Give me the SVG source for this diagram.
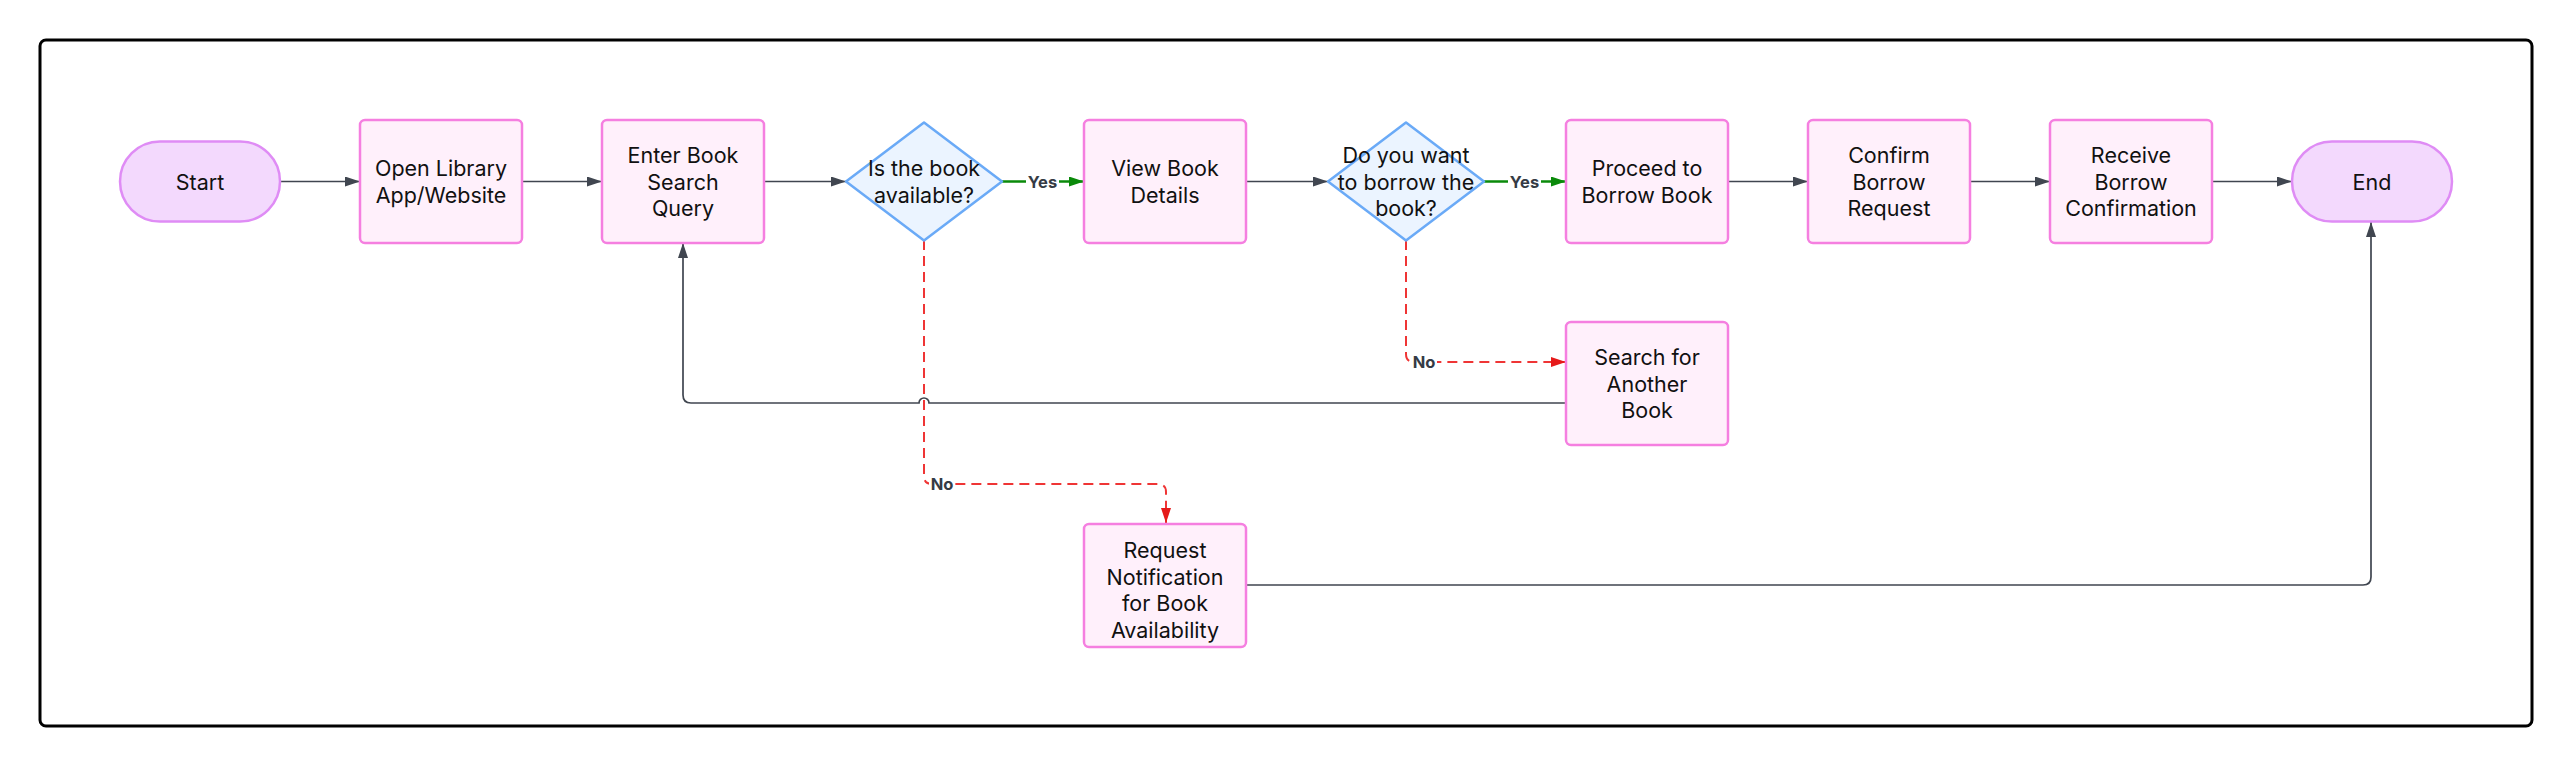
<svg xmlns="http://www.w3.org/2000/svg" width="2572" height="766" viewBox="0 0 2572 766">
<defs>
<style>
.box{fill:#fff0fb;stroke:#f57fe0;stroke-width:2.5}
.pill{fill:#f3d9fd;stroke:#df8cf5;stroke-width:2.5}
.dia{fill:#ebf4ff;stroke:#6aaaf7;stroke-width:2.5;stroke-linejoin:round}
.t{font-family:Inter,"Noto Sans","Liberation Sans",sans-serif;font-size:21.5px;fill:#111;text-anchor:middle}
.lbl{font-family:Inter,"Noto Sans","Liberation Sans",sans-serif;font-size:16.5px;font-weight:700;fill:#353b45;text-anchor:middle}
.e{fill:none;stroke:#404650;stroke-width:1.7}
.g{fill:none;stroke:#0a8a0a;stroke-width:2.5}
.r{fill:none;stroke:#ef3535;stroke-width:2;stroke-dasharray:10 6}
</style>
<marker id="ag" viewBox="0 0 15 10" refX="15" refY="5" markerWidth="15" markerHeight="10" markerUnits="userSpaceOnUse" orient="auto"><path d="M0,0L15,5L0,10z" fill="#404650"/></marker>
<marker id="agr" viewBox="0 0 15 10" refX="15" refY="5" markerWidth="15" markerHeight="10" markerUnits="userSpaceOnUse" orient="auto"><path d="M0,0L15,5L0,10z" fill="#0a8a0a"/></marker>
<marker id="ar" viewBox="0 0 15 10" refX="15" refY="5" markerWidth="15" markerHeight="10" markerUnits="userSpaceOnUse" orient="auto"><path d="M0,0L15,5L0,10z" fill="#e51a1a"/></marker>
</defs>
<rect x="0" y="0" width="2572" height="766" fill="#fff"/>
<rect x="40" y="40" width="2492" height="686" rx="6" fill="#fff" stroke="#000" stroke-width="3"/>

<g id="connectors">
<path class="e" d="M280,181.5H360" marker-end="url(#ag)"/>
<path class="e" d="M522,181.5H602" marker-end="url(#ag)"/>
<path class="e" d="M764,181.5H846" marker-end="url(#ag)"/>
<path class="g" d="M1002,181.5H1084" marker-end="url(#agr)"/>
<path class="e" d="M1246,181.5H1328" marker-end="url(#ag)"/>
<path class="g" d="M1484,181.5H1566" marker-end="url(#agr)"/>
<path class="e" d="M1728,181.5H1808" marker-end="url(#ag)"/>
<path class="e" d="M1970,181.5H2050" marker-end="url(#ag)"/>
<path class="e" d="M2212,181.5H2292" marker-end="url(#ag)"/>
<path class="r" d="M924,240V476Q924,484 932,484H1158Q1166,484 1166,492V523" marker-end="url(#ar)"/>
<path class="r" d="M1406,240V354Q1406,362 1414,362H1566" marker-end="url(#ar)"/>
<path class="e" d="M1566,403H929A5,5 0 0 0 919,403H691Q683,403 683,395V243" marker-end="url(#ag)"/>
<path class="e" d="M1246,585H2363Q2371,585 2371,577V222" marker-end="url(#ag)"/>
<rect x="1026" y="172" width="33" height="20" fill="#fff"/>
<text class="lbl" x="1042.5" y="188">Yes</text>
<rect x="1508" y="172" width="33" height="20" fill="#fff"/>
<text class="lbl" x="1524.5" y="188">Yes</text>
<rect x="929" y="474" width="26" height="20" fill="#fff"/>
<text class="lbl" x="942" y="490">No</text>
<rect x="1411" y="352" width="26" height="20" fill="#fff"/>
<text class="lbl" x="1424" y="368">No</text>
</g>

<g id="start"><rect class="pill" x="120" y="141.5" width="160" height="80" rx="40"/><text class="t" x="200" y="189.5">Start</text></g>
<g id="open"><rect class="box" x="360" y="120" width="162" height="123" rx="5"/><text class="t" x="441" y="176">Open Library</text><text class="t" x="441" y="202.5">App/Website</text></g>
<g id="enter"><rect class="box" x="602" y="120" width="162" height="123" rx="5"/><text class="t" x="683" y="163">Enter Book</text><text class="t" x="683" y="189.5">Search</text><text class="t" x="683" y="216">Query</text></g>
<g id="available"><path class="dia" d="M924,122.5L1002,181.5L924,240.5L846,181.5Z"/><text class="t" x="924" y="176">Is the book</text><text class="t" x="924" y="202.5">available?</text></g>
<g id="view"><rect class="box" x="1084" y="120" width="162" height="123" rx="5"/><text class="t" x="1165" y="176">View Book</text><text class="t" x="1165" y="202.5">Details</text></g>
<g id="borrowq"><path class="dia" d="M1406,122.5L1484,181.5L1406,240.5L1328,181.5Z"/><text class="t" x="1406" y="163">Do you want</text><text class="t" x="1406" y="189.5">to borrow the</text><text class="t" x="1406" y="216">book?</text></g>
<g id="proceed"><rect class="box" x="1566" y="120" width="162" height="123" rx="5"/><text class="t" x="1647" y="176">Proceed to</text><text class="t" x="1647" y="202.5">Borrow Book</text></g>
<g id="confirm"><rect class="box" x="1808" y="120" width="162" height="123" rx="5"/><text class="t" x="1889" y="163">Confirm</text><text class="t" x="1889" y="189.5">Borrow</text><text class="t" x="1889" y="216">Request</text></g>
<g id="receive"><rect class="box" x="2050" y="120" width="162" height="123" rx="5"/><text class="t" x="2131" y="163">Receive</text><text class="t" x="2131" y="189.5">Borrow</text><text class="t" x="2131" y="216">Confirmation</text></g>
<g id="end"><rect class="pill" x="2292" y="141.5" width="160" height="80" rx="40"/><text class="t" x="2372" y="189.5">End</text></g>
<g id="search"><rect class="box" x="1566" y="322" width="162" height="123" rx="5"/><text class="t" x="1647" y="365">Search for</text><text class="t" x="1647" y="391.5">Another</text><text class="t" x="1647" y="418">Book</text></g>
<g id="request"><rect class="box" x="1084" y="524" width="162" height="123" rx="5"/><text class="t" x="1165" y="558">Request</text><text class="t" x="1165" y="584.5">Notification</text><text class="t" x="1165" y="611">for Book</text><text class="t" x="1165" y="637.5">Availability</text></g>
</svg>
